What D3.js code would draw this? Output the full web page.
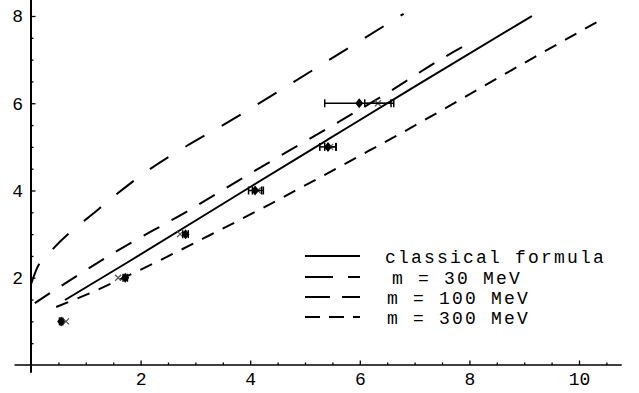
<!DOCTYPE html>
<html>
<head>
<meta charset="utf-8">
<script src="https://cdn.jsdelivr.net/npm/d3@7"></script>
<style>
  body { margin: 0; background: #fff; }
  svg { display: block; }
  .tick text { font-family: "Liberation Mono", "DejaVu Sans Mono", monospace; font-size: 18px; fill: #000; }
  .legend text { font-family: "Liberation Mono", "DejaVu Sans Mono", monospace; font-size: 18px; letter-spacing: 2.2px; fill: #000; }
</style>
</head>
<body>
<div id="chart"></div>
<script>
// tick labels
const xTicks = [2, 4, 6, 8, 10]
const yTicks = [2, 4, 6, 8]

// classical formula (solid)
const classicalX = [0.62, 1.81, 4.0, 5.42, 7.0, 9.14]
const classicalY = [1.49, 2.39, 4.08, 5.17, 6.38, 8.0]

// m = 30 MeV (top curve)
const m30X = [0.0, 0.11, 0.35, 1.22, 1.82, 4.0, 6.8]
const m30Y = [1.85, 2.22, 2.59, 3.56, 4.17, 5.87, 8.05]

// m = 100 MeV (middle curve)
const m100X = [0.07, 0.35, 0.86, 1.39, 2.9, 3.96, 5.46, 6.51, 7.52, 8.05]
const m100Y = [1.42, 1.65, 2.06, 2.48, 3.56, 4.36, 5.46, 6.24, 7.04, 7.41]

// m = 300 MeV (bottom curve)
const m300X = [0.46, 1.08, 1.86, 3.27, 4.23, 6.15, 6.59, 8.52, 9.29, 10.44]
const m300Y = [1.33, 1.65, 2.1, 2.98, 3.6, 4.9, 5.2, 6.58, 7.13, 7.94]

// measured points (diamonds) with horizontal errors
const dataX = [0.55, 1.72, 2.82, 4.09, 5.42, 5.99]
const dataY = [1, 2, 3, 4, 5, 6]
const dataErr = [0.03, 0.04, 0.05, 0.12, 0.15, 0.63]

// second set (crosses)
const crossX = [0.64, 1.59, 2.72, 4.14, 5.46, 6.33]
const crossY = [1, 2, 3, 4, 5, 6]
const crossErr = [0, 0, 0, 0.1, 0.1, 0.24]

const legendLabels = ['classical formula', 'm = 30 MeV', 'm = 100 MeV', 'm = 300 MeV']

const width = 639, height = 393
const svg = d3.select('#chart').append('svg')
  .attr('width', width).attr('height', height)

const x = d3.scaleLinear().domain([0, 10]).range([31, 579])
const y = d3.scaleLinear().domain([0, 8]).range([365, 16])

// axes: minor ticks every 0.5, major ticks labelled
const gx = svg.append('g').attr('transform', `translate(0,${y(0)})`)
gx.call(d3.axisBottom(x).tickValues(d3.range(0.5, 10.6, 0.5).filter(v => v % 2 !== 0)).tickSize(-2.5).tickFormat(''))
gx.select('.domain').remove()
const gx2 = svg.append('g').attr('transform', `translate(0,${y(0)})`)
  .call(d3.axisBottom(x).tickValues(xTicks).tickSize(-4.5).tickPadding(7))
gx2.select('.domain').remove()

const gy = svg.append('g').attr('transform', `translate(${x(0)},0)`)
gy.call(d3.axisLeft(y).tickValues(d3.range(0.5, 8.1, 0.5).filter(v => v % 2 !== 0)).tickSize(-2.5).tickFormat(''))
gy.select('.domain').remove()
const gy2 = svg.append('g').attr('transform', `translate(${x(0)},0)`)
  .call(d3.axisLeft(y).tickValues(yTicks).tickSize(-4.5).tickPadding(8))
gy2.select('.domain').remove()

svg.selectAll('.tick line').attr('stroke', '#000').attr('stroke-width', 1.3)

svg.append('line')
  .attr('x1', x(-0.3)).attr('x2', x(10.78))
  .attr('y1', y(0)).attr('y2', y(0))
  .attr('stroke', '#000').attr('stroke-width', 1.6)
svg.append('line')
  .attr('x1', x(0)).attr('x2', x(0))
  .attr('y1', 0).attr('y2', y(-0.18))
  .attr('stroke', '#000').attr('stroke-width', 2)

// curves
const line = d3.line().x(d => x(d[0])).y(d => y(d[1])).curve(d3.curveMonotoneX)
const series = [
  { xs: classicalX, ys: classicalY, dash: null },
  { xs: m30X, ys: m30Y, dash: '22,20' },
  { xs: m100X, ys: m100Y, dash: '18,14' },
  { xs: m300X, ys: m300Y, dash: '13,10' }
]
svg.append('g').selectAll('path').data(series).enter().append('path')
  .attr('d', s => line(s.xs.map((v, i) => [v, s.ys[i]])))
  .attr('fill', 'none')
  .attr('stroke', '#000')
  .attr('stroke-width', 2)
  .attr('stroke-dasharray', s => s.dash)

// crosses with error bars
const crosses = crossX.map((v, i) => ({ x: v, y: crossY[i], e: crossErr[i] }))
const cg = svg.append('g').attr('stroke', '#555').attr('stroke-width', 1.2)
crosses.filter(d => d.e > 0).forEach(d => {
  cg.append('line').attr('x1', x(d.x - d.e)).attr('x2', x(d.x + d.e)).attr('y1', y(d.y)).attr('y2', y(d.y)).attr('stroke', '#000')
  ;[d.x - d.e, d.x + d.e].forEach(v => {
    cg.append('line').attr('x1', x(v)).attr('x2', x(v)).attr('y1', y(d.y) - 4).attr('y2', y(d.y) + 4).attr('stroke', '#000').attr('stroke-width', 1.5)
  })
})
crosses.forEach(d => {
  cg.append('path')
    .attr('d', `M${x(d.x) - 3},${y(d.y) - 3}L${x(d.x) + 3},${y(d.y) + 3}M${x(d.x) - 3},${y(d.y) + 3}L${x(d.x) + 3},${y(d.y) - 3}`)
})

// diamonds with error bars
const pts = dataX.map((v, i) => ({ x: v, y: dataY[i], e: dataErr[i] }))
const pg = svg.append('g')
pts.forEach(d => {
  pg.append('line').attr('x1', x(d.x - d.e)).attr('x2', x(d.x + d.e)).attr('y1', y(d.y)).attr('y2', y(d.y))
    .attr('stroke', '#000').attr('stroke-width', 1.5)
  ;[d.x - d.e, d.x + d.e].forEach(v => {
    pg.append('line').attr('x1', x(v)).attr('x2', x(v)).attr('y1', y(d.y) - 4).attr('y2', y(d.y) + 4)
      .attr('stroke', '#000').attr('stroke-width', 1.5)
  })
})
pg.selectAll('path').data(pts).enter().append('path')
  .attr('d', d => `M${x(d.x)},${y(d.y) - 5}L${x(d.x) + 4},${y(d.y)}L${x(d.x)},${y(d.y) + 5}L${x(d.x) - 4},${y(d.y)}Z`)
  .attr('fill', '#000')

// legend
const legendDash = [null, '28,15', '25,12', '15,9']
const legendY = [256, 277, 297, 317]
const legendTextX = [385, 392, 387, 387]
const lg = svg.append('g').attr('class', 'legend')
legendLabels.forEach((lab, i) => {
  lg.append('line').attr('x1', 305).attr('x2', 360).attr('y1', legendY[i]).attr('y2', legendY[i])
    .attr('stroke', '#000').attr('stroke-width', 2).attr('stroke-dasharray', legendDash[i])
  lg.append('text').attr('x', legendTextX[i]).attr('y', legendY[i] + 7).text(lab)
})
</script>
</body>
</html>
